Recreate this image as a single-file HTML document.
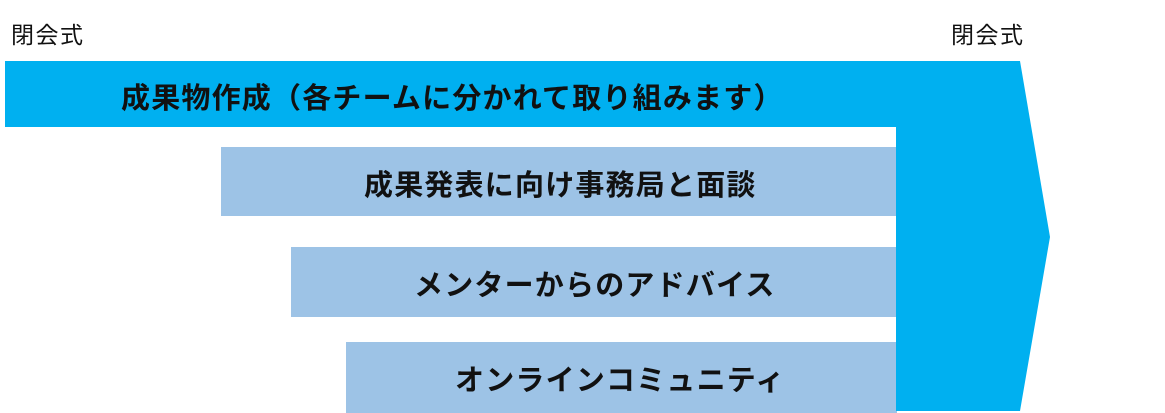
<!DOCTYPE html>
<html><head><meta charset="utf-8"><style>
body{margin:0;width:1165px;height:413px;background:#fff;overflow:hidden;position:relative;font-family:"Liberation Sans","Noto Sans CJK JP",sans-serif}
.t{position:absolute;font-weight:bold;font-size:29px;line-height:29px;letter-spacing:1.2px;color:#111;white-space:nowrap}
.s{position:absolute;font-size:23px;line-height:24px;letter-spacing:1.5px;color:#111}
</style></head><body>
<svg width="1165" height="413" style="position:absolute;left:0;top:0">
<rect x="221" y="147" width="676" height="69" fill="#9DC3E6"/>
<rect x="291" y="247" width="606" height="70" fill="#9DC3E6"/>
<rect x="346" y="342" width="551" height="71" fill="#9DC3E6"/>
<polygon points="5,61 1020,61 1050,237 1020,411 896,411 896,127 5,127" fill="#00B0F0"/>
</svg>
<div class="s" style="left:11px;top:23px">閉会式</div>
<div class="s" style="left:951px;top:23px">閉会式</div>
<div class="t" style="left:121px;top:85px">成果物作成（各チームに分かれて取り組みます）</div>
<div class="t" style="left:364px;top:172px">成果発表に向け事務局と面談</div>
<div class="t" style="left:414px;top:272px">メンターからのアドバイス</div>
<div class="t" style="left:455px;top:367px">オンラインコミュニティ</div>
</body></html>
